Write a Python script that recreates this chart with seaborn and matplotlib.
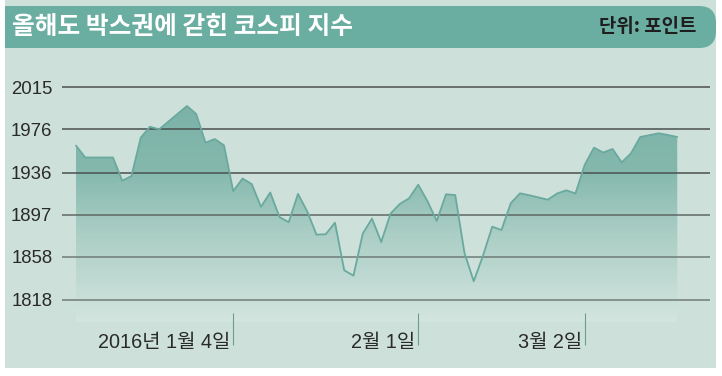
import numpy as np
import pandas as pd
import seaborn as sns
import matplotlib.pyplot as plt
from matplotlib.patches import Rectangle, FancyBboxPatch
from matplotlib.colors import LinearSegmentedColormap

# KOSPI closes, trading days Dec 7 2015 - Mar 16 2016
dates = ["2015-12-07", "2015-12-08", "2015-12-09", "2015-12-10", "2015-12-11",
         "2015-12-14", "2015-12-15", "2015-12-16", "2015-12-17", "2015-12-18",
         "2015-12-21", "2015-12-22", "2015-12-23", "2015-12-24", "2015-12-28",
         "2015-12-29", "2015-12-30",
         "2016-01-04", "2016-01-05", "2016-01-06", "2016-01-07", "2016-01-08",
         "2016-01-11", "2016-01-12", "2016-01-13", "2016-01-14", "2016-01-15",
         "2016-01-18", "2016-01-19", "2016-01-20", "2016-01-21", "2016-01-22",
         "2016-01-25", "2016-01-26", "2016-01-27", "2016-01-28", "2016-01-29",
         "2016-02-01", "2016-02-02", "2016-02-03", "2016-02-04", "2016-02-05",
         "2016-02-11", "2016-02-12", "2016-02-15", "2016-02-16", "2016-02-17",
         "2016-02-18", "2016-02-19", "2016-02-22", "2016-02-23", "2016-02-24",
         "2016-02-25", "2016-02-26", "2016-02-29", "2016-03-02", "2016-03-03",
         "2016-03-04", "2016-03-07", "2016-03-08", "2016-03-09", "2016-03-10",
         "2016-03-11", "2016-03-14", "2016-03-15", "2016-03-16"]
kospi = [1961, 1950, 1950, 1950, 1950,
         1928.5, 1932.8, 1968.3, 1978.5, 1976.1,
         1983.3, 1990.5, 1997.7, 1990.3, 1963.7,
         1967.1, 1961.3,
         1918.8, 1930.5, 1925.4, 1904.3, 1917.6,
         1894.8, 1890.1, 1916.3, 1900.0, 1878.5,
         1878.9, 1889.6, 1845.5, 1840.5, 1879.4,
         1893.4, 1871.7, 1897.9, 1906.9, 1912.1,
         1924.8, 1909.5, 1891.2, 1915.9, 1915.2,
         1861.5, 1835.3, 1859.0, 1885.9, 1882.8,
         1907.6, 1916.8, 1915.0, 1913.0, 1910.9,
         1916.6, 1919.6, 1916.7, 1943.3, 1959.1,
         1954.6, 1957.9, 1945.5, 1953.9, 1969.0,
         1970.7, 1972.4, 1970.8, 1969.0]

y_ticks = [1818, 1858, 1897, 1936, 1976, 2015]
x_tick_dates = ["2016-01-04", "2016-02-01", "2016-03-02"]
x_tick_labels = ["2016년 1월 4일", "2월 1일", "3월 2일"]

title = "올해도 박스권에 갇힌 코스피 지수"
unit = "단위: 포인트"

df = pd.DataFrame({"date": dates, "kospi": kospi})
df["i"] = np.arange(len(df))

sns.set_theme(style="white")
plt.rcParams["font.family"] = ["Liberation Sans", "Noto Sans CJK KR"]

W, H = 722, 376
fig = plt.figure(figsize=(W / 100, H / 100), dpi=100)
fig.patch.set_facecolor("white")

# background layer in pixel coords
bg = fig.add_axes([0, 0, 1, 1], zorder=0)
bg.set_xlim(0, W)
bg.set_ylim(H, 0)
bg.axis("off")
bg.add_patch(Rectangle((5, 0), 711, 368, color="#cde0da", lw=0))
bg.add_patch(FancyBboxPatch((-40, 6), 756, 42, boxstyle="round,pad=0,rounding_size=17",
                            color="#6aada1", lw=0))
bg.add_patch(Rectangle((0, 0), 5, H, color="white", lw=0))
bg.text(12, 27, title, color="white", fontsize=17.8, fontweight="bold",
        va="center", ha="left", family=["Noto Sans CJK KR"])
bg.text(696, 27, unit, color="#1e1e1e", fontsize=13.6, fontweight="bold",
        va="center", ha="right", family=["Noto Sans CJK KR"])

# main chart
ax = fig.add_axes([62 / W, 1 - 345 / H, 648 / W, 285 / H], zorder=1)
ax.patch.set_alpha(0)
ax.set_axisbelow(False)
ax.set_xlim(-1.51, 68.54)
ax.set_ylim(1776.3, 2040.3)
base = 1797.6

poly = ax.fill_between(df["i"], df["kospi"], base, facecolor="none", lw=0)
cmap = LinearSegmentedColormap.from_list(
    "fade", [(0, "#d3e5df"), (0.4, "#abcec5"), (0.7, "#84b8ad"), (1, "#7bb2a7")])
grad = np.linspace(0, 1, 256).reshape(-1, 1)
im = ax.imshow(grad, cmap=cmap, aspect="auto", origin="lower",
               extent=[df["i"].min(), df["i"].max(), base, 2000], zorder=1)
im.set_clip_path(poly.get_paths()[0], transform=ax.transData)

grid_colors = ["#6f7c78", "#6f7c78", "#5e6864", "#4b504e", "#4b504e", "#4b504e"]
for t, c in zip(y_ticks, grid_colors):
    ax.axhline(t, color=c, lw=1.1, zorder=2)

sns.lineplot(data=df, x="i", y="kospi", color="#6aa99e", lw=1.3, ax=ax, zorder=3)

ax.set_yticks(y_ticks)
ax.set_yticklabels([str(t) for t in y_ticks], fontsize=13.4, color="#2a2a2a")
ax.tick_params(axis="y", left=False, length=0, pad=7)

tick_idx = [dates.index(d) for d in x_tick_dates]
ax.set_xticks(tick_idx)
ax.tick_params(axis="x", bottom=True, direction="in", length=23, width=0.8,
               color="#6a9e94", labelbottom=False)
for ti, lab in zip(tick_idx, x_tick_labels):
    ax.text(ti - 0.3, 1779.0, lab, ha="right", va="center", fontsize=14.3,
            color="#2a2a2a")

ax.set_xlabel("")
ax.set_ylabel("")
for s in ax.spines.values():
    s.set_visible(False)

fig.savefig("out.png", dpi=100)
